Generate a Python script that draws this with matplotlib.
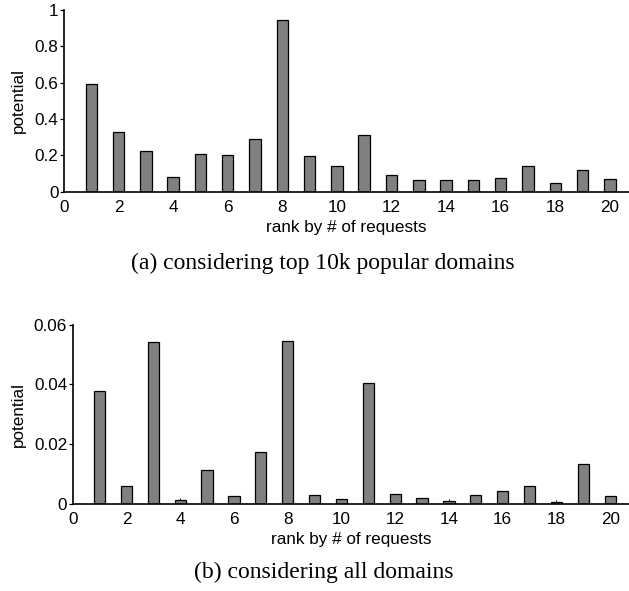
import matplotlib
matplotlib.use('Agg')
import matplotlib.pyplot as plt

# ranks 1..20 and the potential for each
ranks = list(range(1, 21))
potential_top10k = [0.593, 0.329, 0.222, 0.083, 0.207, 0.204, 0.290, 0.943, 0.198, 0.141,
                    0.314, 0.090, 0.066, 0.066, 0.064, 0.077, 0.143, 0.050, 0.118, 0.072]
potential_all = [0.0377, 0.0060, 0.0541, 0.0013, 0.0115, 0.0028, 0.0174, 0.0547, 0.0031, 0.0018,
                 0.0404, 0.0033, 0.0019, 0.0010, 0.0029, 0.0042, 0.0060, 0.0007, 0.0133, 0.0027]
# tiny error whiskers visible on a few bars in (b)
err_all = [0, 0, 0, 0.0006, 0, 0, 0, 0, 0, 0,
           0, 0, 0, 0.0006, 0, 0, 0, 0.0006, 0, 0]

xticks = [0, 2, 4, 6, 8, 10, 12, 14, 16, 18, 20]
sans = ['Liberation Sans', 'DejaVu Sans']
serif = ['Liberation Serif', 'DejaVu Serif']
fs = 12.3

fig = plt.figure(figsize=(6.29, 5.91), dpi=100)


def style(ax, ymax, yticks, yticklabels):
    for s in ['top', 'right']:
        ax.spines[s].set_visible(False)
    for s in ['left', 'bottom']:
        ax.spines[s].set_linewidth(1.2)
    ax.set_xlim(0, 20.7)
    ax.set_ylim(0, ymax)
    ax.set_xticks(xticks)
    ax.set_xticklabels([str(t) for t in xticks], family=sans, fontsize=fs)
    ax.set_yticks(yticks)
    ax.set_yticklabels(yticklabels, family=sans, fontsize=fs)
    ax.tick_params(axis='x', length=0, pad=6)
    ax.tick_params(axis='y', direction='out', length=3, width=0.9, pad=1)
    ax.set_ylabel('potential', family=sans, fontsize=fs, labelpad=6)
    ax.set_xlabel('rank by # of requests', family=sans, fontsize=fs, labelpad=3.5)


ax1 = fig.add_axes([0.1017, 0.6756, 0.8983, 0.3075])
ax1.bar(ranks, potential_top10k, width=0.42, color='#808080', edgecolor='black', linewidth=0.9)
style(ax1, 1.0, [0, 0.2, 0.4, 0.6, 0.8, 1.0], ['0', '0.2', '0.4', '0.6', '0.8', '1'])
fig.text(0.514, 1 - 263 / 591, '(a) considering top 10k popular domains',
         family=serif, fontsize=17, ha='center', va='center')

ax2 = fig.add_axes([0.1156, 0.1472, 0.8844, 0.3034])
ax2.bar(ranks, potential_all, width=0.42, color='#808080', edgecolor='black', linewidth=0.9)
ax2.errorbar(ranks, potential_all, yerr=[[0] * len(err_all), err_all], fmt='none',
             ecolor='black', elinewidth=0.7, capsize=0)
style(ax2, 0.06, [0, 0.02, 0.04, 0.06], ['0', '0.02', '0.04', '0.06'])
fig.text(0.514, 1 - 572 / 591, '(b) considering all domains',
         family=serif, fontsize=17, ha='center', va='center')

fig.savefig('out.png', dpi=100)
